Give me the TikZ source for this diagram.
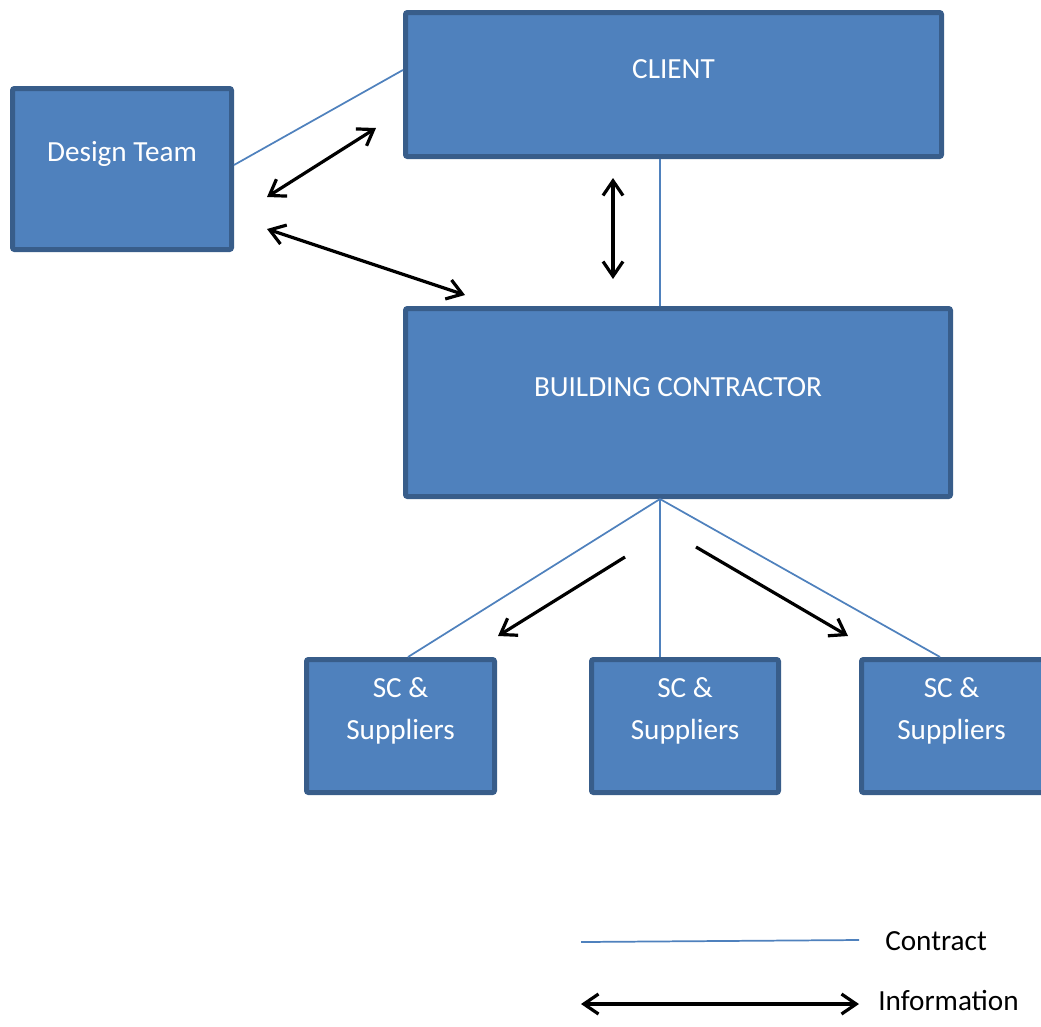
\documentclass[tikz,border=0pt]{standalone}
\usepackage{fontspec}
\setmainfont{Carlito}
\usetikzlibrary{arrows.meta}
\definecolor{boxfill}{HTML}{4F81BD}
\definecolor{boxline}{HTML}{385D8A}

\begin{document}
\begin{tikzpicture}[x=0.75pt,y=-0.75pt,
            box node/.style={rectangle,draw=boxline,fill=boxfill,line width=3.75pt,
                rounded corners=1.5pt,inner sep=0pt},
            box text/.style={text=white,font=\fontsize{21.9}{31.5}\selectfont,align=center,inner sep=0pt},
            key text/.style={font=\fontsize{21.9}{31.5}\selectfont,inner sep=0pt,anchor=west},
            contract/.style={draw=boxfill,line width=1.3pt},
            info/.style={draw=black,line width=2.4pt,>={Straight Barb[length=11pt,width=15pt]}}]

        \useasboundingbox (0,0) rectangle (1041,1026);
        \clip (0,0) rectangle (1041,1026);

        % Define vertices
        \node[box node,minimum width=402pt,minimum height=108pt,
            label={[box text,yshift=11.25pt]center:CLIENT}] (client) at (673.5,84.5) {};
        \node[box node,minimum width=164.25pt,minimum height=120.75pt,
            label={[box text,yshift=11.25pt]center:Design Team}] (design) at (122,169) {};
        \node[box node,minimum width=408.75pt,minimum height=141pt,
            label={[box text,yshift=11.25pt]center:BUILDING CONTRACTOR}] (bc) at (678,402.5) {};
        \node[box node,minimum width=141pt,minimum height=99.75pt,
            label={[box text,yshift=11.25pt]center:{SC \&\\Suppliers}}] (sc1) at (400.5,726) {};
        \node[box node,minimum width=140.25pt,minimum height=99.75pt,
            label={[box text,yshift=11.25pt]center:{SC \&\\Suppliers}}] (sc2) at (685,726) {};
        \node[box node,minimum width=141pt,minimum height=99.75pt,
            label={[box text,xshift=-3pt,yshift=11.25pt]center:{SC \&\\Suppliers}}] (sc3) at (955.5,726) {};

        % Ends of the information arrows
        \coordinate (d1) at (267,197);
        \coordinate (c1) at (376,128);
        \coordinate (d2) at (267,229);
        \coordinate (b1) at (465,295);
        \coordinate (c2) at (613,178);
        \coordinate (b2) at (613,279);
        \coordinate (b3) at (625,557);
        \coordinate (s1) at (498,636);
        \coordinate (b4) at (696,547);
        \coordinate (s3) at (848,636);

        % Key
        \coordinate (k1) at (581,942);
        \coordinate (k2) at (859,940);
        \coordinate (k3) at (581,1004);
        \coordinate (k4) at (859,1004);
        \node[key text] (contractkey) at (885,941) {Contract};
        \node[key text] (infokey) at (878,1000) {Information};

        % Draw contract lines
        \path[contract]
            ([yshift=3pt]design.east) edge ([yshift=10.9pt]client.west)
            ([xshift=-10.1pt]client.south) edge ([xshift=-13.5pt]bc.north)
            ([xshift=-13.5pt]bc.south) edge ([xshift=5.6pt]sc1.north)
            ([xshift=-13.5pt]bc.south) edge ([xshift=-18.75pt]sc2.north)
            ([xshift=-13.5pt]bc.south) edge ([xshift=-11.6pt]sc3.north)
            (k1) edge (k2);

        % Draw information arrows
        \path[info]
            (d1) edge[<->] (c1)
            (d2) edge[<->] (b1)
            (c2) edge[<->] (b2)
            (b3) edge[->] (s1)
            (b4) edge[->] (s3)
            (k3) edge[<->] (k4);

        \end{tikzpicture}
\end{document}
